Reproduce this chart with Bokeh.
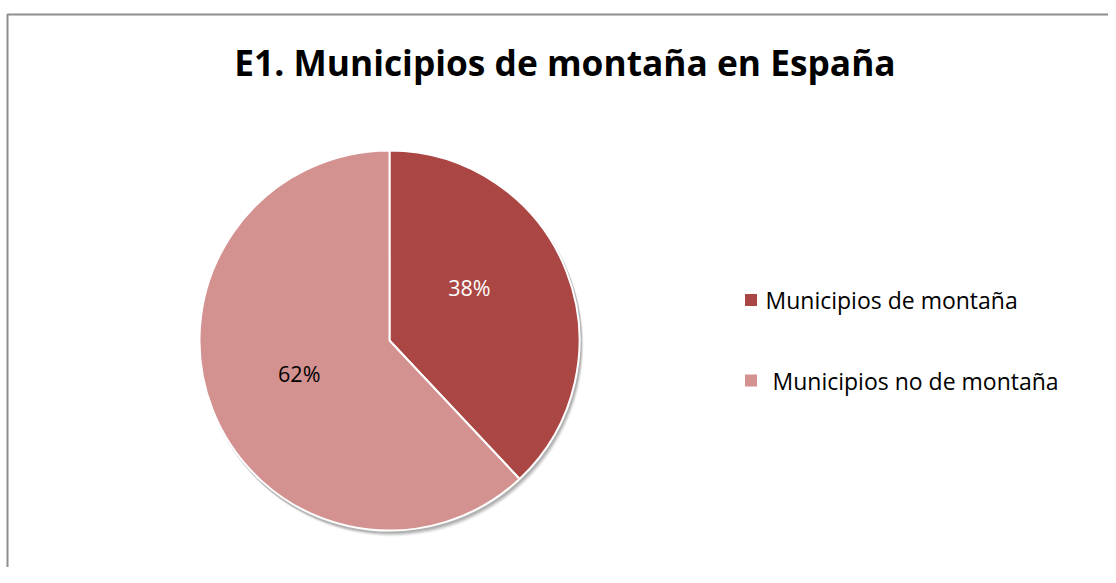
import math
from bokeh.plotting import figure
from bokeh.models import ColumnDataSource
from bokeh.core.properties import value
from bokeh.embed import file_html
from bokeh.resources import INLINE

# ---- data ----
title = "E1. Municipios de montaña en España"
categories = ["Municipios de montaña", "Municipios no de montaña"]
shares = [38, 62]
pct_labels = ["38%", "62%"]
colors = ["#AA4644", "#D39290"]
label_colors = ["#FFFFFF", "#000000"]

# ---- layout (pixel space) ----
W, H = 1108, 567
def X(rx):
    return rx
def Y(ry):
    return H - ry

cx, cy, R = X(389), Y(340), 190

p = figure(width=W, height=H, x_range=(0, W), y_range=(0, H),
           output_backend="svg", toolbar_location=None, min_border=0)
p.axis.visible = False
p.grid.visible = False
p.outline_line_color = None
p.background_fill_color = "white"
p.border_fill_color = "white"

# frame
p.quad(left=[X(7)], right=[X(1130)], top=[Y(14)], bottom=[Y(620)],
       fill_color=None, line_color="#8E8E8E", line_width=2)

# title
p.text(x=[X(564.5)], y=[Y(61)], text=[title], text_font=value("Open Sans"),
       text_font_style="bold", text_font_size="35.3px", text_align="center",
       text_baseline="middle", text_color="#000000")

# shadow
for off, a in [(5, 0.05), (4, 0.07), (3, 0.09), (2, 0.12)]:
    p.circle(x=[cx + off * 0.6], y=[cy - off], radius=R + 1, radius_units="screen",
             fill_color="#000000", fill_alpha=a, line_color=None)

# wedges
total = float(sum(shares))
starts, ends, mids = [], [], []
cum = 0.0
for s in shares:
    a0 = math.pi / 2 - 2 * math.pi * (cum + s) / total
    a1 = math.pi / 2 - 2 * math.pi * cum / total
    starts.append(a0)
    ends.append(a1)
    mids.append((a0 + a1) / 2)
    cum += s

src = ColumnDataSource(dict(start=starts, end=ends, color=colors))
p.wedge(x=cx, y=cy, radius=R, radius_units="screen", start_angle="start",
        end_angle="end", fill_color="color", line_color="white", line_width=2,
        source=src)

# percent labels (fine adjustments to mimic Excel best-fit placement)
label_r = [96, 96]
label_dang = [0.21, -0.03]
lx = [cx + r * math.cos(m + d) for r, m, d in zip(label_r, mids, label_dang)]
ly = [cy + r * math.sin(m + d) for r, m, d in zip(label_r, mids, label_dang)]
p.text(x=lx, y=ly, text=pct_labels, text_color=label_colors,
       text_font=value("Open Sans"), text_font_size="21.5px",
       text_align="center", text_baseline="middle")

# legend (manual)
leg_y = [Y(299.5), Y(380)]
leg_text_x = [X(765), X(772)]
p.rect(x=[X(750.5)] * 2, y=leg_y, width=12, height=12, width_units="screen",
       height_units="screen", fill_color=colors, line_color=None)
p.text(x=leg_text_x, y=leg_y, text=categories, text_font=value("Open Sans"),
       text_font_size="23px", text_align="left", text_baseline="middle",
       text_color="#000000")

open("out.html", "w").write(file_html(p, INLINE))
